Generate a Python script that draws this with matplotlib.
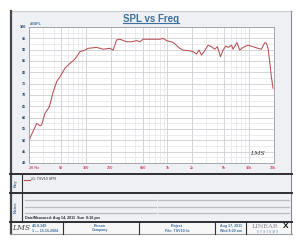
import matplotlib.pyplot as plt
from matplotlib.patches import Rectangle
from matplotlib.lines import Line2D
from matplotlib.ticker import FixedLocator, LogLocator, NullFormatter, MultipleLocator

freq_hz = [20, 24.9, 27.3, 28.6, 31.4, 35.5, 39.7, 43.7, 48, 55.2, 63.6, 71.2, 76.9,
           84.3, 97.1, 106.6, 135.2, 148.3, 162.8, 196.6, 215.8, 237.6, 260.8, 314.8,
           362.8, 417.9, 458.4, 503.3, 608, 805.6, 885, 974, 1173, 1417, 1556, 1880,
           2063, 2271, 2444, 2615, 2813, 3149, 3467, 3803, 4108, 4470, 4812, 5190,
           5600, 6100, 6380, 7140, 7705, 8460, 9740, 11220, 12910, 14220, 15600,
           16370, 17130, 17960, 18840, 19730]
spl_db = [50.1, 57.5, 56.4, 56.8, 61.9, 64.8, 71.5, 75.9, 78.0, 81.8, 84.0, 85.4, 86.9,
          89.1, 89.8, 90.6, 91.0, 90.6, 90.2, 90.6, 89.8, 94.3, 94.6, 93.5,
          93.5, 94.0, 93.5, 94.6, 94.6, 94.6, 95.0, 94.0, 93.2, 90.6, 89.8, 89.5,
          89.1, 88.1, 89.8, 87.6, 89.1, 92.0, 91.3, 90.2, 91.3, 86.9, 89.8, 91.6,
          91.0, 92.0, 90.2, 93.1, 89.8, 91.0, 92.0, 91.3, 90.6, 90.2, 93.1,
          92.8, 90.6, 84.7, 78.0, 73.0]

x_ticks = [20, 50, 100, 200, 500, 1000, 2000, 5000, 10000, 20000]
x_labels = ["20 Hz", "50", "100", "200", "500", "1k", "2k", "5k", "10k", "20k"]
y_ticks = list(range(40, 101, 5))

W, H = 300, 240
BLUE = "#3f6f9c"
PAGE = "#eef0f3"
LINE = "#2e2e33"

plt.rcParams['font.family'] = ['Liberation Sans', 'DejaVu Sans']
fig = plt.figure(figsize=(3, 2.4), dpi=100, facecolor="white")


# helpers working in pixel coords, origin top-left
def px_rect(x0, y0, x1, y1, **kw):
    fig.add_artist(Rectangle((x0 / W, 1 - y1 / H), (x1 - x0) / W, (y1 - y0) / H,
                             transform=fig.transFigure, **kw))


def px_line(x0, y0, x1, y1, **kw):
    fig.add_artist(Line2D([x0 / W, x1 / W], [1 - y0 / H, 1 - y1 / H],
                          transform=fig.transFigure, **kw))


def px_text(x, y, s, **kw):
    fig.text(x / W, 1 - y / H, s, **kw)


# page background and frame
px_rect(10, 11, 292, 234, facecolor=PAGE, edgecolor="none", zorder=-10)
px_rect(11, 222, 291, 234, facecolor="#f7f7f8", edgecolor="none", zorder=-9)
px_line(10, 11, 292, 11, color="#c9ccd2", lw=0.8)
px_line(291, 11, 291, 234, color="#8a8a90", lw=0.8)
px_line(10.5, 11, 10.5, 234, color="#45464c", lw=1.6)
px_line(10, 234, 292, 234, color="#9a9aa0", lw=0.8)
for yy in (174, 193, 222):
    px_line(10, yy, 292, yy, color=LINE, lw=1.4)

# key / notes panels
px_line(22, 174, 22, 222, color=LINE, lw=0.8)
px_text(16, 183.5, "Key", rotation=90, ha="center", va="center", fontsize=3,
        color=BLUE, fontweight="bold")
px_text(16, 207.5, "Notes", rotation=90, ha="center", va="center", fontsize=3,
        color=BLUE, fontweight="bold")
px_line(24, 179.5, 30, 179.5, color="#b94f52", lw=0.8)
px_text(31, 179.5, "#1: TSV10 SPR", fontsize=2.6, va="center", color="#333340")
for yy in (199.5, 206.5, 213.3):
    px_line(25, yy, 155.5, yy, color="#b9bcc2", lw=0.9)
    px_line(158, yy, 289, yy, color="#b9bcc2", lw=0.9)
px_text(25, 217.5, "Date/Measured: Aug 14, 2011  Sun  8:16 pm", fontsize=2.6,
        va="center", color="#222230", fontweight="bold")

# footer
for xx in (63, 139, 215, 246):
    px_line(xx, 222, xx, 234, color=LINE, lw=0.8)
px_text(21, 228.5, "LMS", fontsize=5.5, style="italic", family="DejaVu Serif",
        ha="center", va="center", color="#444448")
px_text(32, 226, "4.5.8.349", fontsize=2.6, color=BLUE, va="center", fontweight="bold")
px_text(32, 230.5, "1 \u2014 15.15.2004", fontsize=2.6, color=BLUE, va="center", fontweight="bold")
px_text(100, 226, "Person", fontsize=2.6, color=BLUE, ha="center", va="center", fontweight="bold")
px_text(100, 230.5, "Company", fontsize=2.6, color=BLUE, ha="center", va="center", fontweight="bold")
px_text(177, 226, "Project", fontsize=2.6, color=BLUE, ha="center", va="center", fontweight="bold")
px_text(177, 230.5, "File: TSV10.lis", fontsize=2.6, color=BLUE, ha="center", va="center", fontweight="bold")
px_text(231, 226, "Aug 17, 2011", fontsize=2.6, color=BLUE, ha="center", va="center", fontweight="bold")
px_text(231, 230.5, "Wed 8:20 am", fontsize=2.6, color=BLUE, ha="center", va="center", fontweight="bold")
px_text(265, 226.5, "LINEAR", fontsize=4.6, family="DejaVu Serif", color="#8c8c94",
        ha="center", va="center")
px_text(285.5, 226.5, "X", fontsize=6, fontweight="bold", color="#111111",
        ha="center", va="center")
px_text(267, 231.8, "S  Y  S  T  E  M  S", fontsize=1.8, color=BLUE, ha="center", va="center")

# title with underline
px_text(151, 18.5, "SPL vs Freq", fontsize=7, fontweight="bold", color=BLUE,
        ha="center", va="center")
px_line(123, 23, 179, 23, color=BLUE, lw=0.8)
px_text(30, 24.3, "dBSPL", fontsize=2.6, color=BLUE, va="center", fontweight="bold")

# plot area
ax = fig.add_axes([29 / W, 1 - 163 / H, 244.5 / W, 136 / H])
ax.set_facecolor("white")
ax.set_xscale("log")
ax.set_xlim(20, 20000)
ax.set_ylim(40, 100)
ax.xaxis.set_major_locator(FixedLocator(x_ticks))
ax.xaxis.set_minor_locator(LogLocator(base=10, subs=range(1, 10), numticks=20))
ax.xaxis.set_minor_formatter(NullFormatter())
ax.set_xticklabels(x_labels)
ax.set_yticks(y_ticks)
ax.set_yticklabels([str(v) for v in y_ticks])
ax.yaxis.set_minor_locator(MultipleLocator(2.5))
ax.tick_params(which="both", length=0)
ax.tick_params(axis="x", labelsize=2.8, labelcolor="#d0506a", pad=2)
ax.tick_params(axis="y", labelsize=2.8, labelcolor="#2c4a6e", pad=2)
for lab in ax.get_xticklabels():
    lab.set_fontweight("bold")
for lab in ax.get_yticklabels():
    lab.set_fontweight("bold")
ax.get_xticklabels()[0].set_horizontalalignment("left")
ax.grid(which="minor", color="#e4e5e9", lw=0.5)
ax.grid(which="major", color="#cdced5", lw=0.6)
ax.set_axisbelow(True)
for sp in ax.spines.values():
    sp.set_color("#9a9ca6")
    sp.set_linewidth(0.6)

ax.plot(freq_hz, spl_db, color="#b94f52", lw=0.75)
ax.text(0.965, 0.05, "LMS", transform=ax.transAxes, fontsize=4.5, style="italic",
        family="DejaVu Serif", ha="right", va="bottom", color="#333338")

fig.savefig("out.png", dpi=100, facecolor="white")
